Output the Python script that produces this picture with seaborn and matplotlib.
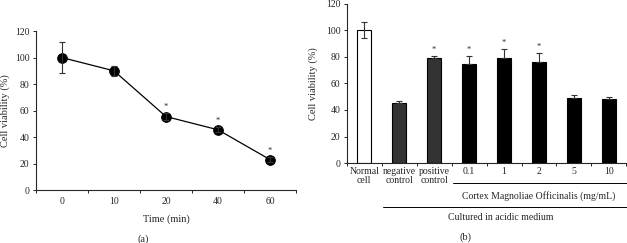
import numpy as np
import pandas as pd
import seaborn as sns
import matplotlib.pyplot as plt
import matplotlib.transforms as mtransforms

# panel (a) data
time_labels = ['0', '10', '20', '40', '60']
viability_a = [100, 90, 55.5, 45.5, 23]
err_a = [12, 4, 3, 2, 2]
star_a = [False, False, True, True, True]

# panel (b) data
groups_b = ['Normal\ncell', 'negative\ncontrol', 'positive\ncontrol', '0.1', '1', '2', '5', '10']
viability_b = [100, 45.5, 79.5, 75, 79, 76, 49, 48.5]
err_b = [6, 1.5, 1.5, 6, 7, 7, 2, 1.5]
star_b = [False, False, True, True, True, True, False, False]
colors_b = ['white', '#333333', '#333333', 'black', 'black', 'black', 'black', 'black']

sns.set_style('ticks')
plt.rcParams['font.family'] = ['Liberation Serif', 'DejaVu Serif']
plt.rcParams['font.size'] = 7

fig = plt.figure(figsize=(6.27, 2.43), dpi=100)
ax1 = fig.add_axes([0.0574, 0.218, 0.4146, 0.654])
ax2 = fig.add_axes([0.553, 0.329, 0.446, 0.655])

# ---- panel (a)
df_a = pd.DataFrame({'time': time_labels, 'v': viability_a})
sns.pointplot(data=df_a, x='time', y='v', color='black', errorbar=None,
              markers='o', markersize=7, linewidth=0.9, ax=ax1)
ax1.errorbar(np.arange(len(viability_a)), viability_a, yerr=err_a, fmt='none',
             ecolor='#333333', elinewidth=0.8, capsize=2.5, capthick=0.8)
for i, (v, e, s) in enumerate(zip(viability_a, err_a, star_a)):
    if s:
        ax1.text(i, v + e + 1.5, '*', ha='center', va='bottom', fontsize=6)
ax1.set_ylim(0, 120)
ax1.set_yticks(range(0, 121, 20))
ax1.set_xlim(-0.5, len(time_labels) - 0.5)
ax1.set_xlabel('Time (min)', fontsize=7.5, labelpad=6)
ax1.set_ylabel('Cell viability (%)', fontsize=7.5, labelpad=4)

# ---- panel (b)
df_b = pd.DataFrame({'group': groups_b, 'v': viability_b})
sns.barplot(data=df_b, x='group', y='v', hue='group', palette=colors_b,
            edgecolor='black', linewidth=0.8, width=0.4, errorbar=None,
            legend=False, ax=ax2)
ax2.errorbar(np.arange(len(viability_b)), viability_b,
             yerr=[[e if i == 0 else 0 for i, e in enumerate(err_b)], err_b],
             fmt='none', ecolor='#333333', elinewidth=0.8, capsize=2.5, capthick=0.8)
for i, (v, e, s) in enumerate(zip(viability_b, err_b, star_b)):
    if s:
        ax2.text(i, v + e + 1.5, '*', ha='center', va='bottom', fontsize=6)
ax2.set_ylim(0, 120)
ax2.set_yticks(range(0, 121, 20))
ax2.set_xlim(-0.5, len(groups_b) - 0.5)
ax2.set_xlabel('')
ax2.set_ylabel('Cell viability (%)', fontsize=7.5, labelpad=6)

for ax in (ax1, ax2):
    sns.despine(ax=ax)
    n = len(ax.get_xticks())
    ax.set_xticks(np.arange(-0.5, n, 1.0), minor=True)
    ax.tick_params(axis='x', which='major', length=0, pad=5, labelsize=7)
    ax.tick_params(axis='x', which='minor', length=2.5, width=0.7, direction='out')
    ax.tick_params(axis='y', length=2.5, width=0.7, labelsize=7, pad=2)
    for sp in ax.spines.values():
        sp.set_linewidth(0.8)
ax2.tick_params(axis='x', which='major', pad=3, labelsize=7)
for lab in ax2.get_xticklabels():
    lab.set_linespacing(1.0)

# bracket lines and labels under panel (b)
tr = mtransforms.blended_transform_factory(ax2.transData, ax2.transAxes)
ax2.plot([2.55, 7.6], [-0.126, -0.126], color='black', lw=0.7, transform=tr, clip_on=False)
ax2.text(5.0, -0.205, 'Cortex Magnoliae Officinalis (mg/mL)', transform=tr,
         ha='center', va='center', fontsize=7)
ax2.plot([0.55, 7.6], [-0.277, -0.277], color='black', lw=0.7, transform=tr, clip_on=False)
ax2.text(3.9, -0.345, 'Cultured in acidic medium', transform=tr,
         ha='center', va='center', fontsize=7)

fig.text(143 / 627, 1 - 239 / 243, '(a)', ha='center', va='center', fontsize=7.5)
fig.text(465 / 627, 1 - 237 / 243, '(b)', ha='center', va='center', fontsize=7.5)

fig.savefig('out.png', dpi=100)
